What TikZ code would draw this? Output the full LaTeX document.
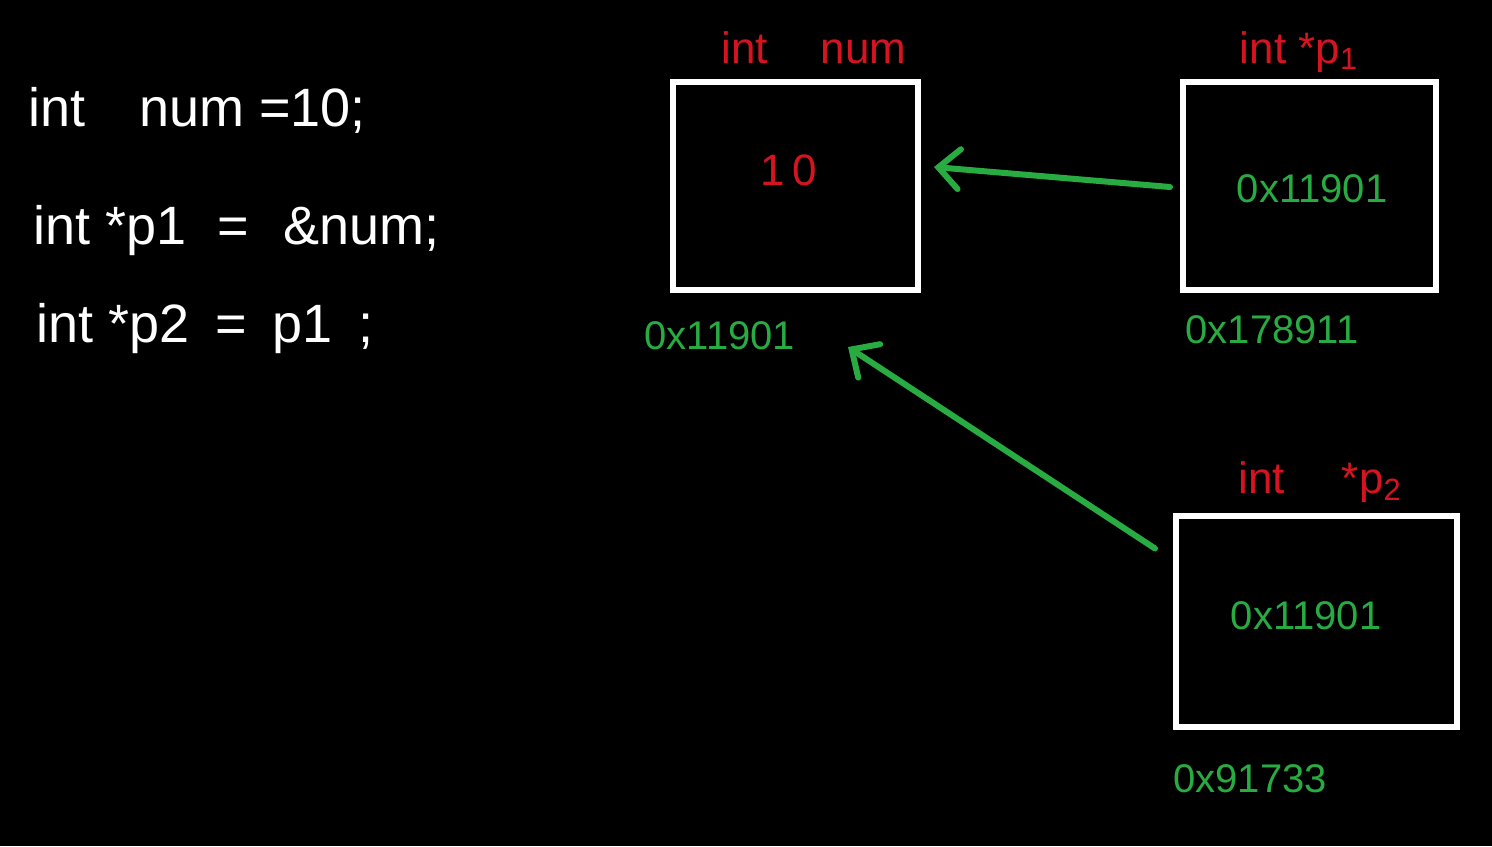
\documentclass[tikz,border=0pt]{standalone}
\usepackage{fontspec}
\setmainfont{Liberation Sans}
\usetikzlibrary{arrows.meta,calc}
\definecolor{hgreen}{RGB}{40,172,66}
\definecolor{hred}{RGB}{214,20,32}
\begin{document}
\begin{tikzpicture}[x=0.5pt,y=-0.5pt,
  membox/.style={draw=white,line width=3pt,minimum width=#1,inner sep=0pt,outer sep=0pt},
  codetext/.style={text=white,font=\fontsize{27}{32}\selectfont,anchor=base west,inner sep=0pt},
  typelabel/.style={text=hred,font=\fontsize{22}{26}\selectfont,anchor=base,inner sep=0pt},
  valred/.style={text=hred,font=\fontsize{22}{26}\selectfont,anchor=base,inner sep=0pt},
  addr/.style={text=hgreen,font=\fontsize{20}{24}\selectfont,anchor=base,inner sep=0pt},
  ptrarrow/.style={draw=hgreen,line width=3pt,line cap=round,
    -{Straight Barb[length=10.5pt,width=20pt,line width=3pt,line cap=round]}}
]
\useasboundingbox (0,0) rectangle (1492,846);
\fill[black] (0,0) rectangle (1492,846);

% code
\node[codetext] (c1) at (28,126) {int\hspace{1.0em}num =10;};
\node[codetext] (c2) at (33,244) {int *p1 \hspace{0.3em}= \hspace{0.35em}\&num;};
\node[codetext] (c3) at (36,342) {int *p2 \hspace{0.2em}= \hspace{0.2em}p1 \hspace{0.2em};};

% boxes
\node[membox=122.5pt,minimum height=104pt] (num) at (795.5,186) {};
\node[membox=126.5pt,minimum height=104pt] (p1) at (1309.5,186) {};
\node[membox=140.5pt,minimum height=105.5pt] (p2) at (1316.5,621.5) {};

% type labels
\node[typelabel] (lnum) at (814,63) {int\hspace{1.2em}num};
\node[typelabel] (lp1) at (1299,63) {int *p\textsubscript{1}};
\node[typelabel] (lp2) at (1320,493) {int\hspace{1.3em}*p\textsubscript{2}};

% contents
\node[valred] (vnum) at (789,185) {1\,0};
\node[addr] (vp1) at (1312,202) {0x11901};
\node[addr] (vp2) at (1306,629) {0x11901};

% addresses
\node[addr] (anum) at (720,349) {0x11901};
\node[addr] (ap1) at (1272,343) {0x178911};
\node[addr] (ap2) at (1250,792) {0x91733};

% arrows
\draw[ptrarrow] ($(p1.west)+(-13,1)$) -- ($(num.east)+(16,-19)$);
\draw[ptrarrow] ($(p2.west)+(-21,-73)$) -- ($(num.south east)+(-70,57)$);
\end{tikzpicture}
\end{document}
